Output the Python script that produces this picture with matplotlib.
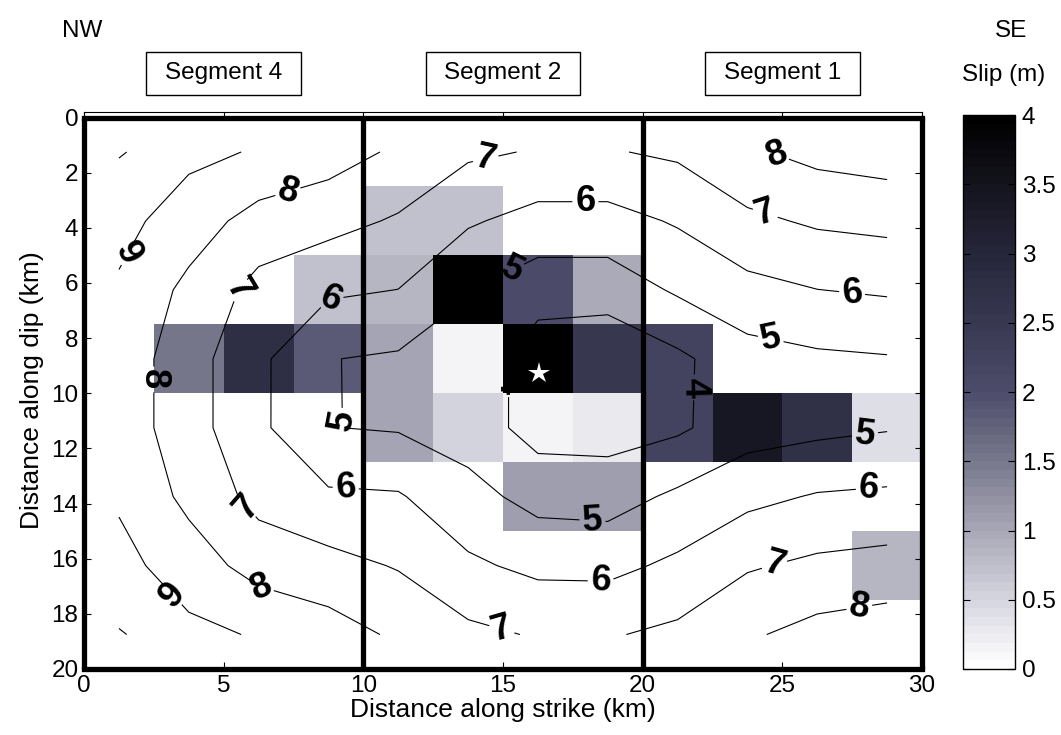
import numpy as np
import matplotlib
matplotlib.use("Agg")
import matplotlib.pyplot as plt
import matplotlib.transforms as mtransforms
from matplotlib.colors import LinearSegmentedColormap
from matplotlib.patches import Rectangle

plt.rcParams['font.family'] = ['Liberation Sans', 'DejaVu Sans']

# ---- fault model: 2.5 km subfaults, 12 along strike x 8 down dip ----
strike_edges = np.linspace(0, 30, 13)
dip_edges = np.linspace(0, 20, 9)

# slip per subfault (m); rows go down dip, columns along strike
slip = np.array([
    [0.00, 0.00, 0.00, 0.00, 0.00, 0.00, 0.00, 0.00, 0.00, 0.00, 0.00, 0.00],
    [0.00, 0.00, 0.00, 0.00, 0.70, 0.70, 0.00, 0.00, 0.00, 0.00, 0.00, 0.00],
    [0.00, 0.00, 0.00, 0.70, 0.85, 4.00, 2.05, 0.95, 0.00, 0.00, 0.00, 0.00],
    [0.00, 1.50, 2.80, 1.85, 1.00, 0.15, 4.00, 2.50, 2.20, 0.00, 0.00, 0.00],
    [0.00, 0.00, 0.00, 0.00, 1.00, 0.55, 0.15, 0.30, 2.20, 3.40, 2.70, 0.40],
    [0.00, 0.00, 0.00, 0.00, 0.00, 0.00, 1.10, 1.10, 0.00, 0.00, 0.00, 0.00],
    [0.00, 0.00, 0.00, 0.00, 0.00, 0.00, 0.00, 0.00, 0.00, 0.00, 0.00, 0.85],
    [0.00, 0.00, 0.00, 0.00, 0.00, 0.00, 0.00, 0.00, 0.00, 0.00, 0.00, 0.00],
])

# rupture time (s) at subfault centres
rupture_time = np.array([
    [8.97, 9.24, 8.92, 8.45, 7.84, 7.16, 6.93, 6.93, 7.16, 7.87, 8.29, 8.48],
    [9.31, 8.50, 7.61, 7.33, 6.89, 6.12, 5.64, 5.64, 6.10, 6.79, 7.14, 7.28],
    [8.87, 7.75, 6.69, 6.16, 5.99, 5.03, 4.43, 4.43, 5.13, 5.70, 5.99, 6.12],
    [8.58, 7.42, 6.21, 5.03, 4.87, 4.76, 3.45, 3.24, 3.80, 4.61, 4.83, 4.93],
    [8.58, 7.42, 6.21, 5.02, 4.92, 4.55, 3.60, 3.57, 3.84, 4.57, 4.76, 4.93],
    [8.87, 7.75, 6.69, 6.16, 6.09, 5.33, 4.67, 4.59, 5.18, 5.74, 6.08, 6.18],
    [9.31, 8.50, 7.61, 7.33, 6.93, 6.17, 5.76, 5.73, 6.20, 6.90, 7.20, 7.35],
    [8.97, 9.24, 8.92, 8.45, 7.84, 7.23, 6.92, 6.92, 7.22, 7.87, 8.34, 8.55],
])
time_levels = [4, 5, 6, 7, 8, 9]

hypocenter = (16.3, 9.25)

segment_bounds = [0, 10, 20, 30]
segment_names = ["Segment 4", "Segment 2", "Segment 1"]

cbar_ticks = [0, 0.5, 1, 1.5, 2, 2.5, 3, 3.5, 4]

# where the contour labels sit
label_spots = [
    (1.5, 4.9), (7.33, 2.8), (5.5, 6.2), (8.83, 6.63), (2.57, 9.5),
    (9.19, 11.0), (9.37, 13.4), (5.86, 14.1), (6.4, 16.85), (3.1, 17.4),
    (14.37, 1.45), (17.95, 3.08), (15.37, 5.6), (14.9, 9.67),
    (18.2, 14.67), (18.5, 16.85), (14.98, 18.48),
    (24.85, 1.2), (24.4, 3.44), (27.5, 6.34), (24.56, 8.15), (21.63, 9.78),
    (27.96, 11.49), (28.1, 13.48), (24.74, 16.3), (27.78, 17.93),
]

# white -> blue-grey -> black slip scale
slip_cmap = LinearSegmentedColormap.from_list(
    "slip",
    [(0.000, (1.00, 1.00, 1.00)),
     (0.125, (0.83, 0.83, 0.87)),
     (0.250, (0.65, 0.65, 0.71)),
     (0.375, (0.47, 0.47, 0.55)),
     (0.500, (0.30, 0.30, 0.42)),
     (0.625, (0.22, 0.22, 0.32)),
     (0.750, (0.15, 0.15, 0.23)),
     (0.875, (0.08, 0.08, 0.12)),
     (1.000, (0.00, 0.00, 0.00))],
    N=64)

fig = plt.figure(figsize=(10.61, 7.35), dpi=100)
ax = fig.add_axes([0.0792, 0.0898, 0.7898, 0.7578])

mesh = ax.pcolormesh(strike_edges, dip_edges, slip, cmap=slip_cmap,
                     vmin=0, vmax=4, shading='flat')

strike_c = 0.5 * (strike_edges[:-1] + strike_edges[1:])
dip_c = 0.5 * (dip_edges[:-1] + dip_edges[1:])
cs = ax.contour(strike_c, dip_c, rupture_time, levels=time_levels,
                colors='black', linewidths=0.8)
labels = ax.clabel(cs, time_levels, manual=label_spots, inline=True,
                   inline_spacing=3, fontsize=26, fmt='%d')
for t in labels:
    t.set_fontweight('bold')

ax.plot(*hypocenter, marker='*', color='white', markersize=16,
        markeredgewidth=0, zorder=5)

# segment boundaries and fault outline
for xb in segment_bounds:
    ax.plot([xb, xb], [dip_edges[0], dip_edges[-1]], color='black',
            lw=3.8, clip_on=False, zorder=6, solid_capstyle='butt')
for yb in (dip_edges[0], dip_edges[-1]):
    ax.plot([strike_edges[0], strike_edges[-1]], [yb, yb], color='black',
            lw=3.8, clip_on=False, zorder=6, solid_capstyle='projecting')

ax.set_xlim(0, 30)
ax.set_ylim(20, -0.2)
ax.set_xticks(np.arange(0, 31, 5))
ax.set_yticks(np.arange(0, 21, 2))
ax.tick_params(direction='in', top=True, right=True, length=5,
               labelsize=17.5, pad=4)
ax.set_xlabel("Distance along strike (km)", fontsize=19, labelpad=1)
ax.set_ylabel("Distance along dip (km)", fontsize=19, labelpad=5)

# segment name boxes above each segment
blend = mtransforms.blended_transform_factory(ax.transData, fig.transFigure)
for (x0, x1), name in zip(zip(segment_bounds[:-1], segment_bounds[1:]),
                          segment_names):
    xm = 0.5 * (x0 + x1)
    fig.add_artist(Rectangle((xm - 2.77, 1 - 95 / 735), 5.54, 43 / 735,
                             transform=blend, facecolor='white',
                             edgecolor='black', lw=1.0))
    fig.text(xm, 1 - 73.5 / 735, name, transform=blend, ha='center',
             va='center', fontsize=17.5)

fig.text(82 / 1061, 1 - 31 / 735, "NW", ha='center', va='center', fontsize=17.5)
fig.text(1011 / 1061, 1 - 31 / 735, "SE", ha='center', va='center', fontsize=17.5)
fig.text(1004 / 1061, 1 - 75 / 735, "Slip (m)", ha='center', va='center',
         fontsize=17.5)

cax = fig.add_axes([963 / 1061, 0.0898, 52 / 1061, 0.7537])
cb = fig.colorbar(mesh, cax=cax, ticks=cbar_ticks)
cb.ax.set_yticklabels(["0", "0.5", "1", "1.5", "2", "2.5", "3", "3.5", "4"])
cb.ax.tick_params(direction='in', left=True, right=True, length=5,
                  labelsize=17.5, pad=5)
cb.outline.set_linewidth(1.0)

fig.savefig("out.png", dpi=100)
